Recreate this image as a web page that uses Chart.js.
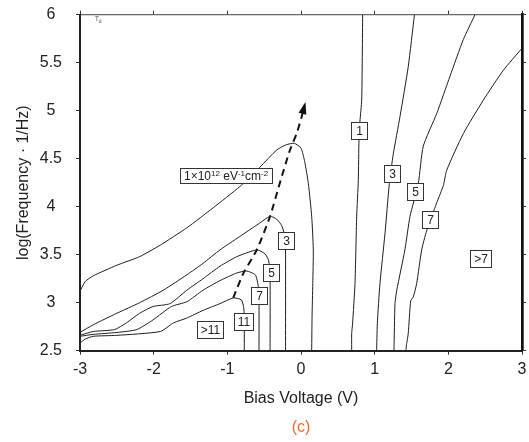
<!DOCTYPE html>
<html>
<head>
<meta charset="utf-8">
<script src="https://cdn.jsdelivr.net/npm/chart.js"></script>
<style>
  body { margin: 0; background: #fff; }
  canvas { display: block; }
</style>
</head>
<body>
<canvas id="contourChart" width="529" height="442"></canvas>
<script>
// contour lines, [bias voltage (V), log frequency]
const lineE12 = [[-3.0,3.12],[-2.93,3.22],[-2.82,3.28],[-2.5,3.39],[-2.19,3.48],[-1.91,3.60],[-1.55,3.78],
  [-1.19,3.99],[-0.83,4.21],[-0.56,4.41],[-0.33,4.59],[-0.2,4.645],[-0.09,4.66],[0.0,4.61],[0.05,4.47],
  [0.10,4.24],[0.145,3.90],[0.167,3.55],[0.16,3.20],[0.15,2.85],[0.145,2.5]];
const line3L = [[-3.0,2.69],[-2.82,2.77],[-2.5,2.89],[-2.19,3.0],[-1.87,3.13],[-1.55,3.29],[-1.33,3.41],
  [-1.10,3.55],[-0.83,3.69],[-0.56,3.83],[-0.42,3.90],[-0.33,3.87],[-0.26,3.80],[-0.22,3.69],[-0.21,3.55],[-0.21,2.5]];
const line5L = [[-3.0,2.66],[-2.82,2.70],[-2.53,2.72],[-2.37,2.79],[-2.19,2.89],[-2.01,2.96],[-1.78,2.99],
  [-1.55,3.13],[-1.33,3.25],[-1.10,3.38],[-0.87,3.48],[-0.60,3.55],[-0.49,3.51],[-0.44,3.44],[-0.42,3.30],[-0.42,2.5]];
const line7L = [[-3.0,2.65],[-2.82,2.67],[-2.5,2.69],[-2.23,2.72],[-2.01,2.82],[-1.76,2.96],[-1.55,3.01],
  [-1.33,3.13],[-1.10,3.23],[-0.87,3.31],[-0.74,3.33],[-0.62,3.29],[-0.58,3.17],[-0.57,3.03],[-0.57,2.5]];
const line11L = [[-3.0,2.58],[-2.93,2.62],[-2.82,2.65],[-2.5,2.66],[-1.91,2.70],[-1.73,2.79],[-1.55,2.84],
  [-1.33,2.92],[-1.10,2.99],[-0.92,3.05],[-0.81,3.03],[-0.78,2.96],[-0.77,2.85],[-0.77,2.5]];
const line1R = [[0.837,6.0],[0.824,5.11],[0.80,4.89],[0.787,4.70],[0.778,4.28],[0.756,3.90],[0.733,3.20],
  [0.70,2.78],[0.688,2.68],[0.688,2.5]];
const line3R = [[1.54,6.0],[1.456,5.46],[1.344,4.94],[1.253,4.55],[1.199,4.24],[1.14,3.72],[1.072,3.20],
  [1.036,2.78],[1.027,2.5]];
const line5R = [[2.362,6.0],[2.203,5.74],[2.023,5.36],[1.842,4.97],[1.66,4.63],[1.592,4.24],[1.48,3.90],
  [1.41,3.55],[1.30,3.13],[1.276,2.99],[1.262,2.5]];
const line7R = [[3.0,5.65],[2.746,5.42],[2.475,5.11],[2.203,4.76],[1.978,4.38],[1.932,4.22],[1.842,4.04],
  [1.706,3.75],[1.638,3.55],[1.57,3.20],[1.524,3.06],[1.489,3.02],[1.456,2.68],[1.44,2.6],[1.43,2.55],[1.425,2.5]];
// dashed arrow (peak shift)
const peakTrend = [[-0.92,3.05],[-0.78,3.31],[-0.60,3.55],[-0.42,3.90],[-0.29,4.24],[-0.15,4.59],
  [-0.06,4.76],[0.01,4.94],[0.05,5.06]];

// contour level labels [text, x, y]
const levelLabels = [
  ['1', 0.787, 4.79], ['3', 1.23, 4.35], ['5', 1.543, 4.16], ['7', 1.75, 3.87], ['>7', 2.44, 3.46],
  ['3', -0.21, 3.65], ['5', -0.41, 3.31], ['7', -0.57, 3.08], ['11', -0.78, 2.80], ['>11', -1.23, 2.72]
];
const unitLabelPos = [-1.018, 4.325];
const unitLabelParts = [['1×10', 0], ['12', 1], [' eV', 0], ['-1', 1], ['cm', 0], ['-2', 1]];

const xTicksStep = 1, yTicksStep = 0.5;
const FONT = '"Liberation Sans", Arial, Helvetica, sans-serif';

const contourSets = [lineE12, line3L, line5L, line7L, line11L, line1R, line3R, line5R, line7R].map(pts => ({
  data: pts.map(([x, y]) => ({ x, y })),
  borderColor: '#1e1e1e',
  borderWidth: 1,
  pointRadius: 0,
  tension: 0.2,
  fill: false
}));

const arrowSet = {
  data: peakTrend.map(([x, y]) => ({ x, y })),
  borderColor: '#111',
  borderWidth: 2,
  borderDash: [7, 5],
  pointRadius: 0,
  tension: 0.2,
  fill: false
};

const labelsPlugin = {
  id: 'contourLabels',
  afterDatasetsDraw(chart) {
    const { ctx, scales: { x, y } } = chart;
    ctx.save();

    // arrow head at the end of dashed line
    const pts = chart.getDatasetMeta(chart.data.datasets.length - 1).data;
    const a = pts[pts.length - 2], b = pts[pts.length - 1];
    const ang = Math.atan2(b.y - a.y, b.x - a.x);
    const len = 9, half = 4;
    ctx.fillStyle = '#111';
    ctx.beginPath();
    ctx.moveTo(b.x + Math.cos(ang) * 3, b.y + Math.sin(ang) * 3);
    ctx.lineTo(b.x - Math.cos(ang) * len + Math.sin(ang) * half, b.y - Math.sin(ang) * len - Math.cos(ang) * half);
    ctx.lineTo(b.x - Math.cos(ang) * len - Math.sin(ang) * half, b.y - Math.sin(ang) * len + Math.cos(ang) * half);
    ctx.closePath();
    ctx.fill();

    // level boxes
    ctx.font = '12px ' + FONT;
    ctx.textAlign = 'center';
    ctx.textBaseline = 'middle';
    levelLabels.forEach(([text, vx, vy]) => {
      const px = x.getPixelForValue(vx), py = y.getPixelForValue(vy);
      const w = Math.round(Math.max(16, ctx.measureText(text).width + 7)), h = 17;
      const left = Math.round(px - w / 2), top = Math.round(py - h / 2);
      ctx.fillStyle = '#fff';
      ctx.fillRect(left, top, w, h);
      ctx.strokeStyle = '#333';
      ctx.lineWidth = 1;
      ctx.strokeRect(left + 0.5, top + 0.5, w, h);
      ctx.fillStyle = '#222';
      ctx.fillText(text, left + w / 2 + 0.5, top + h / 2 + 1);
    });

    // unit label with superscripts
    const baseFont = '12px ' + FONT, supFont = '8px ' + FONT;
    let total = 0;
    unitLabelParts.forEach(([t, sup]) => {
      ctx.font = sup ? supFont : baseFont;
      total += ctx.measureText(t).width;
    });
    const ux = x.getPixelForValue(unitLabelPos[0]), uy = y.getPixelForValue(unitLabelPos[1]);
    const bw = Math.round(total + 8), bh = 15;
    const bl = Math.round(ux - bw / 2), bt = Math.round(uy - bh / 2);
    ctx.fillStyle = '#fff';
    ctx.fillRect(bl, bt, bw, bh);
    ctx.strokeStyle = '#333';
    ctx.strokeRect(bl + 0.5, bt + 0.5, bw, bh);
    ctx.fillStyle = '#222';
    ctx.textAlign = 'left';
    ctx.textBaseline = 'alphabetic';
    let cx = bl + 4;
    unitLabelParts.forEach(([t, sup]) => {
      ctx.font = sup ? supFont : baseFont;
      ctx.fillText(t, cx, sup ? bt + 8 : bt + 12);
      cx += ctx.measureText(t).width;
    });

    // T_d marker in corner
    const tx = x.getPixelForValue(-2.8), ty = y.getPixelForValue(5.93);
    ctx.fillStyle = '#555';
    ctx.font = '7px ' + FONT;
    ctx.fillText('T', tx, ty);
    ctx.font = '5px ' + FONT;
    ctx.fillText('d', tx + 4, ty + 2);

    ctx.restore();
  },
  afterDraw(chart) {
    const { ctx } = chart;
    ctx.save();
    ctx.font = '16px ' + FONT;
    ctx.fillStyle = '#f26a2a';
    ctx.textAlign = 'center';
    ctx.textBaseline = 'middle';
    ctx.fillText('(c)', 301, 428);
    ctx.restore();
  }
};

const tickGrid = { drawOnChartArea: false, drawTicks: true, tickLength: 4, tickColor: '#333', tickWidth: 1 };
const noPad = s => { s.paddingTop = 0; s.paddingBottom = 0; s.paddingLeft = 0; s.paddingRight = 0; };
const plainNum = v => String(Math.round(v * 10) / 10);

new Chart(document.getElementById('contourChart'), {
  type: 'line',
  data: { datasets: [...contourSets, arrowSet] },
  options: {
    responsive: false,
    animation: false,
    devicePixelRatio: 1,
    layout: { padding: 0 },
    plugins: { legend: { display: false }, tooltip: { enabled: false } },
    scales: {
      x: {
        type: 'linear', position: 'bottom', min: -3, max: 3,
        ticks: { stepSize: xTicksStep, color: '#222', font: { family: FONT, size: 16 }, padding: 5, maxRotation: 0, callback: plainNum },
        grid: tickGrid,
        border: { display: true, width: 2, color: '#222' },
        title: { display: true, text: 'Bias Voltage (V)', color: '#222', font: { family: FONT, size: 16 }, padding: { top: 0, bottom: 34 } },
        afterFit: s => { s.height = 91.3; noPad(s); }
      },
      x2: {
        type: 'linear', position: 'top', min: -3, max: 3,
        ticks: { stepSize: xTicksStep, display: false },
        grid: tickGrid,
        border: { display: true, width: 1.3, color: '#666' },
        afterFit: s => { s.height = 14.7; noPad(s); }
      },
      y: {
        type: 'linear', position: 'left', min: 2.5, max: 6,
        ticks: { stepSize: yTicksStep, color: '#222', font: { family: FONT, size: 16 }, padding: 14, crossAlign: 'center', callback: plainNum },
        grid: tickGrid,
        border: { display: true, width: 2, color: '#222' },
        title: { display: true, text: 'log(Frequency · 1/Hz)', color: '#222', font: { family: FONT, size: 16 }, padding: { top: 14.4, bottom: 0 } },
        afterFit: s => { s.width = 80; noPad(s); }
      },
      y2: {
        type: 'linear', position: 'right', min: 2.5, max: 6,
        ticks: { stepSize: yTicksStep, display: false },
        grid: tickGrid,
        border: { display: true, width: 2.7, color: '#111' },
        afterFit: s => { s.width = 7; noPad(s); }
      }
    }
  },
  plugins: [labelsPlugin]
});
</script>
</body>
</html>
